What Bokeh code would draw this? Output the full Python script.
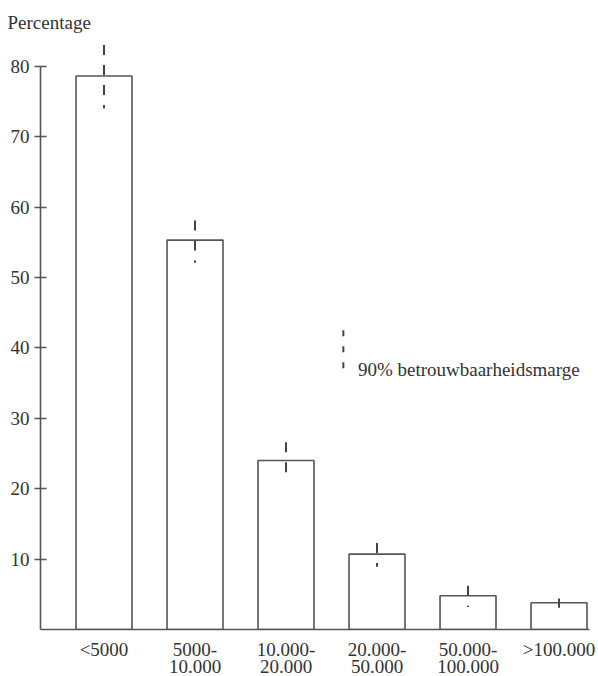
from bokeh.plotting import figure
from bokeh.models import ColumnDataSource, Range1d, FixedTicker, Label
from bokeh.embed import file_html
from bokeh.resources import INLINE

# ---- data ----
categories = ["<5000", "5000-\n10.000", "10.000-\n20.000", "20.000-\n50.000",
              "50.000-\n100.000", ">100.000"]
values = [78.6, 55.3, 24.0, 10.7, 4.8, 3.8]
upper = [83.0, 58.1, 26.6, 12.3, 6.2, 4.4]
lower = [74.0, 52.1, 22.3, 8.9, 3.2, 3.1]
y_ticks = [10, 20, 30, 40, 50, 60, 70, 80]
y_title = "Percentage"
legend_text = "90% betrouwbaarheidsmarge"

FONT = "Liberation Serif"
INK = "#333333"
LINE = "#555555"

xs = list(range(len(categories)))
src = ColumnDataSource(dict(x=xs, top=values, upper=upper, lower=lower))

p = figure(frame_width=549, frame_height=595,
           x_range=Range1d(-0.698, 5.335), y_range=Range1d(0, 84.5),
           output_backend="svg", toolbar_location=None,
           min_border_left=40, min_border_right=9,
           min_border_top=34, min_border_bottom=47)
p.background_fill_color = "white"
p.border_fill_color = "white"
p.outline_line_color = None
p.grid.visible = False

p.title.text = y_title
p.title.align = "left"
p.title.offset = -33
p.title.standoff = 4
p.title.text_font = FONT
p.title.text_font_size = "19px"
p.title.text_font_style = "normal"
p.title.text_color = INK

p.vbar(x="x", top="top", bottom=0, width=0.615, source=src,
       fill_color="white", line_color=LINE, line_width=1.6)
p.segment(x0="x", y0="upper", x1="x", y1="lower", source=src,
          line_color="#444444", line_width=2, line_dash="10 10")

# y axis
ya = p.yaxis[0]
ya.ticker = FixedTicker(ticks=y_ticks)
ya.bounds = (0, 80)
ya.axis_line_color = LINE
ya.axis_line_width = 1.6
ya.major_tick_line_color = LINE
ya.major_tick_line_width = 1.6
ya.major_tick_in = 6
ya.major_tick_out = 6
ya.minor_tick_line_color = None
ya.major_label_standoff = 5
ya.major_label_text_font = FONT
ya.major_label_text_font_size = "19px"
ya.major_label_text_color = INK

# x axis
xa = p.xaxis[0]
xa.ticker = FixedTicker(ticks=xs)
xa.major_label_overrides = {i: c for i, c in enumerate(categories)}
xa.axis_line_color = LINE
xa.axis_line_width = 1.6
xa.major_tick_line_color = None
xa.minor_tick_line_color = None
xa.major_tick_in = 0
xa.major_tick_out = 0
xa.major_label_standoff = 9
xa.major_label_text_font = FONT
xa.major_label_text_font_size = "19px"
xa.major_label_text_color = INK
xa.major_label_text_line_height = 0.85

# legend
p.segment(x0=[2.63], y0=[42.5], x1=[2.63], y1=[36.9],
          line_color="#444444", line_width=2, line_dash="6 10")
p.add_layout(Label(x=2.79, y=36.9, text=legend_text, text_font=FONT,
                   text_font_size="19px", text_color=INK,
                   text_baseline="alphabetic"))

open("out.html", "w").write(file_html(p, INLINE))
